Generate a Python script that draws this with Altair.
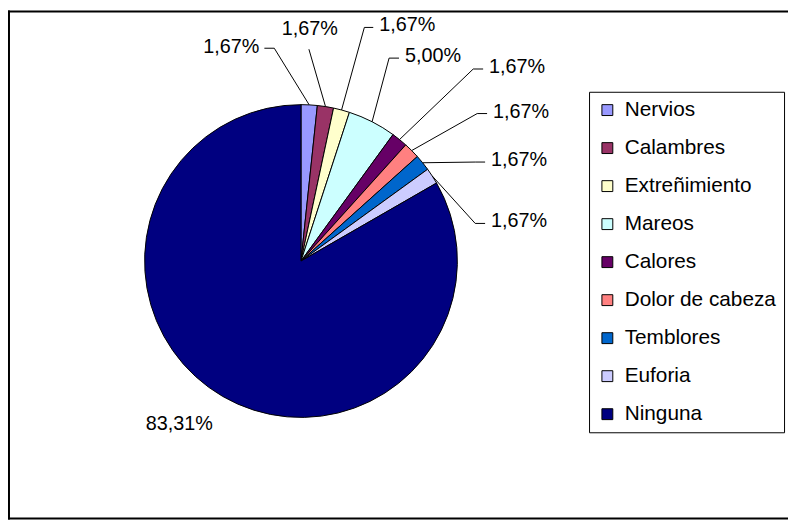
import math
import altair as alt
import pandas as pd

# ---- data ----
categories = ["Nervios", "Calambres", "Extreñimiento", "Mareos", "Calores",
              "Dolor de cabeza", "Temblores", "Euforia", "Ninguna"]
percents = [1.67, 1.67, 1.67, 5.00, 1.67, 1.67, 1.67, 1.67, 83.31]
label_texts = ["1,67%", "1,67%", "1,67%", "5,00%", "1,67%", "1,67%", "1,67%", "1,67%", "83,31%"]
colors = ["#9999FF", "#993366", "#FFFFCC", "#CCFFFF", "#660066",
          "#FF8080", "#0066CC", "#CCCCFF", "#000080"]

# ---- label layout (pixels relative to pie centre, y up) ----
elbow_dx = [-27, 8, 64, 89, 174, 178, 176, 176, -123]
elbow_dy = [215, 214, 236, 205, 194, 149, 100, 38, -165]
stub = [-10, 0, 9, 10, 10, 10, 10, 10, 0]
has_line = [True, True, True, True, True, True, True, True, False]

W, H = 788, 514
CX, CY = 296, 253          # pie centre in view pixels
R = 158
FONT = "Liberation Sans"

pie_df = pd.DataFrame({"cat": categories, "pct": percents,
                       "idx": list(range(len(categories)))})

# leader lines and label anchors
total = sum(percents)
cum = 0.0
line_rows, lab_rows = [], []
for i, (c, p) in enumerate(zip(categories, percents)):
    mid = (cum + p / 2) / total * 2 * math.pi
    cum += p
    ax, ay = R * math.sin(mid), R * math.cos(mid)
    ex, ey = elbow_dx[i], elbow_dy[i]
    sx = ex + stub[i]
    if has_line[i]:
        line_rows += [
            {"cat": c, "o": 0, "x": ax, "y": ay},
            {"cat": c, "o": 1, "x": ex, "y": ey},
            {"cat": c, "o": 2, "x": sx, "y": ey},
        ]
    if stub[i] > 0:
        lab_rows.append({"t": label_texts[i], "x": sx + 6, "y": ey + 2, "al": "left"})
    elif stub[i] < 0:
        lab_rows.append({"t": label_texts[i], "x": sx - 5, "y": ey + 1, "al": "right"})
    elif has_line[i]:
        lab_rows.append({"t": label_texts[i], "x": ex + 1, "y": ey + 14, "al": "top"})
    else:
        lab_rows.append({"t": label_texts[i], "x": ex, "y": ey, "al": "center"})

line_df = pd.DataFrame(line_rows)
lab_df = pd.DataFrame(lab_rows)

xs = alt.Scale(domain=[-CX, W - CX], nice=False, zero=False)
ys = alt.Scale(domain=[CY - H, CY], nice=False, zero=False)

pie = alt.Chart(pie_df).mark_arc(outerRadius=R, stroke="black", strokeWidth=1).encode(
    theta=alt.Theta("pct:Q", stack=True),
    color=alt.Color("cat:N", scale=alt.Scale(domain=categories, range=colors),
                    legend=alt.Legend(
                        title=None, orient="none", legendX=587, legendY=82,
                        direction="vertical",
                        strokeColor="black", fillColor="white", padding=8,
                        symbolType="square", symbolSize=121,
                        symbolStrokeColor="black", symbolStrokeWidth=1,
                        symbolOpacity=1,
                        labelFont=FONT, labelFontSize=21, labelColor="black",
                        labelOffset=7, rowPadding=16.4, labelLimit=300)),
    order=alt.Order("idx:Q"),
    x=alt.value(CX), y=alt.value(CY),
)

lines = alt.Chart(line_df).mark_line(color="black", strokeWidth=1).encode(
    x=alt.X("x:Q", scale=xs, axis=None),
    y=alt.Y("y:Q", scale=ys, axis=None),
    detail="cat:N",
    order="o:Q",
)

def text_layer(al, align, baseline):
    return alt.Chart(lab_df).transform_filter(alt.datum.al == al).mark_text(
        align=align, baseline=baseline, font=FONT, fontSize=20, color="black"
    ).encode(
        x=alt.X("x:Q", scale=xs, axis=None),
        y=alt.Y("y:Q", scale=ys, axis=None),
        text="t:N",
    )

labels_left = text_layer("left", "left", "middle")
labels_right = text_layer("right", "right", "middle")
labels_top = text_layer("top", "center", "alphabetic")
labels_center = text_layer("center", "center", "middle")

frame_df = pd.DataFrame({"a": [0]})
left_rule = alt.Chart(frame_df).mark_rule(color="black", strokeWidth=2).encode(
    x=alt.value(1), y=alt.value(0), y2=alt.value(H))
top_rule = alt.Chart(frame_df).mark_rule(color="black", strokeWidth=2).encode(
    x=alt.value(0), x2=alt.value(W), y=alt.value(1))
bottom_rule = alt.Chart(frame_df).mark_rule(color="black", strokeWidth=2).encode(
    x=alt.value(0), x2=alt.value(W), y=alt.value(H - 1))

chart = alt.layer(
    pie, lines, labels_left, labels_right, labels_top, labels_center,
    left_rule, top_rule, bottom_rule
).properties(
    width=W, height=H, padding=0, autosize=alt.AutoSizeParams(type="none"),
    background="white"
).configure_view(stroke=None)

chart.save("out.html", embed_options={"renderer": "svg", "actions": False})
